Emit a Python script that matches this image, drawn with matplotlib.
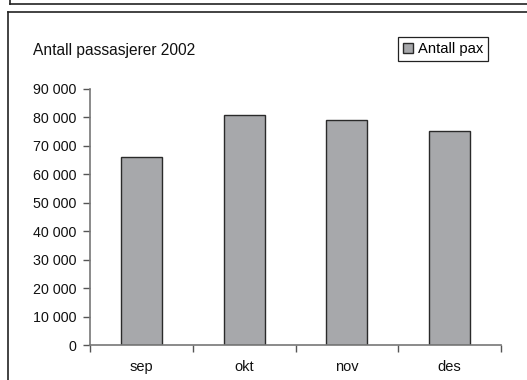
import numpy as np
import matplotlib.pyplot as plt
from matplotlib.lines import Line2D

plt.rcParams['font.family'] = ['Liberation Sans', 'DejaVu Sans']

# Passenger counts per month, 2002
months = ['sep', 'okt', 'nov', 'des']
pax = [66000, 81000, 79100, 75200]
yticks = np.arange(0, 90001, 10000)

fig = plt.figure(figsize=(5.27, 3.80), dpi=100)
ax = fig.add_axes([0.1708, 0.0921, 0.7799, 0.6737])

x = np.arange(len(months))
ax.bar(x, pax, width=0.40, color='#a7a8ab', edgecolor='#2a2a2a', linewidth=1.0,
       label='Antall pax', zorder=2)

ax.set_xlim(-0.5, len(months) - 0.5)
ax.set_ylim(0, 90000)

# category boundaries get the tick marks, labels sit in the middle
ax.set_xticks(np.arange(-0.5, len(months), 1.0))
ax.set_xticklabels([])
ax.set_xticks(x, minor=True)
ax.set_xticklabels(months, minor=True)
ax.tick_params(axis='x', which='major', direction='out', length=5, width=1, color='#555555')
ax.tick_params(axis='x', which='minor', length=0, pad=11, labelsize=10.5, labelcolor='#111111')

ax.set_yticks(yticks)
ax.set_yticklabels([f'{v:,}'.replace(',', ' ') for v in yticks])
ax.tick_params(axis='y', direction='out', length=5, width=1, color='#555555',
               pad=4.5, labelsize=10.3, labelcolor='#111111')

for side in ['top', 'right']:
    ax.spines[side].set_visible(False)
for side in ['left', 'bottom']:
    ax.spines[side].set_color('#777777')
    ax.spines[side].set_linewidth(1.2)

fig.text(0.062, 0.868, 'Antall passasjerer 2002', fontsize=11.2, color='#111111',
         va='center', ha='left')

leg = fig.legend(loc='center', bbox_to_anchor=(0.8406, 0.871), fontsize=10.6,
                 fancybox=False, edgecolor='#222222', framealpha=1,
                 handlelength=0.7, handleheight=0.7, handletextpad=0.35,
                 borderpad=0.32, borderaxespad=0)
leg.get_frame().set_linewidth(0.9)

# outer frames of the sheet
fig.add_artist(Line2D([0.019, 1.0], [0.9887, 0.9887], color='#222222', lw=1.2))
fig.add_artist(Line2D([0.019, 0.019], [0.9887, 1.0], color='#222222', lw=1.2))
fig.add_artist(Line2D([0.0152, 1.0], [0.9676, 0.9676], color='#222222', lw=1.2))
fig.add_artist(Line2D([0.0152, 0.0152], [0.0, 0.9676], color='#222222', lw=1.2))

fig.savefig('out.png', dpi=100)
